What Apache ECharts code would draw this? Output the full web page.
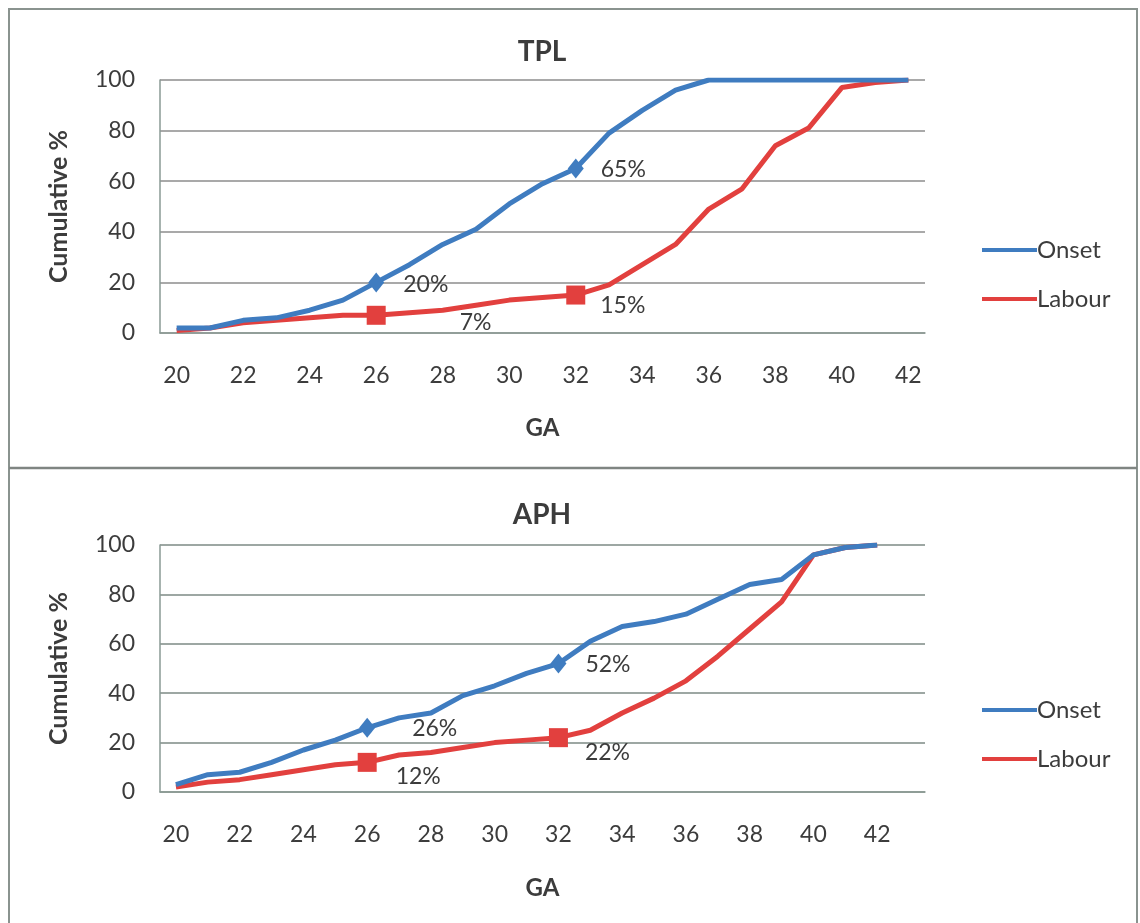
<!DOCTYPE html>
<html>
<head>
<meta charset="utf-8">
<script src="https://cdn.jsdelivr.net/npm/echarts@6/dist/echarts.min.js"></script>
<style>
html,body{margin:0;padding:0;background:#fff;}
#main{width:1140px;height:923px;}
</style>
</head>
<body>
<div id="main"></div>
<script>
// ---- data ----
const tplWeeks = ['20','21','22','23','24','25','26','27','28','29','30','31','32','33','34','35','36','37','38','39','40','41','42'];
const aphWeeks = ['20','21','22','23','24','25','26','27','28','29','30','31','32','33','34','35','36','37','38','39','40','41','42','43'];
const tplOnset  = [2,2,5,6,9,13,20,27,35,41,51,59,65,79,88,96,100,100,100,100,100,100,100];
const tplLabour = [1,2,4,5,6,7,7,8,9,11,13,14,15,19,27,35,49,57,74,81,97,99,100];
const aphOnset  = [3,7,8,12,17,21,26,30,32,39,43,48,52,61,67,69,72,78,84,86,96,99,100];
const aphLabour = [2,4,5,7,9,11,12,15,16,18,20,21,22,25,32,38,45,55,66,77,96,99,100];
const markedWeeks = ['26','32'];
const seriesNames = ['Onset','Labour'];
const yTicks = [0,20,40,60,80,100];

// ---- styling / building ----
const FONT = 'Lato, "Open Sans", sans-serif';
const TXT = '#3c3c3c';
const BLUE = '#3f7cc0';
const RED = '#e2403e';

function buildData(weeks, values, symbol, size, color, offsets) {
  return values.map((v, i) => {
    const k = markedWeeks.indexOf(weeks[i]);
    if (k < 0) return v;
    return {
      value: v,
      symbol: symbol,
      symbolSize: size,
      itemStyle: {color: color},
      label: {
        show: true, position: 'right', distance: 0, offset: offsets[k],
        formatter: '{c}%', color: TXT, fontSize: 23, fontFamily: FONT
      }
    };
  });
}

function lineSeries(name, weeks, values, color, symbol, size, offsets, idx) {
  return {
    type: 'line', name: name, xAxisIndex: idx, yAxisIndex: idx,
    data: buildData(weeks, values, symbol, size, color, offsets),
    symbol: 'none', showSymbol: true, smooth: false,
    lineStyle: {color: color, width: 5},
    itemStyle: {color: color},
    label: {show: false},
    emphasis: {disabled: true},
    z: name === 'Onset' ? 3 : 2
  };
}

const grids = [
  {left: 160, right: 215, top: 80, height: 253},
  {left: 160, right: 215, top: 545, height: 247}
];

function xAx(idx, weeks, gap) {
  return {
    type: 'category', gridIndex: idx, data: weeks, boundaryGap: true,
    axisLine: {show: true, lineStyle: {color: '#8a9a94', width: 1.5}},
    axisTick: {show: false},
    axisLabel: {interval: 1, margin: 31, color: TXT, fontSize: 23, fontFamily: FONT},
    name: 'GA', nameLocation: 'middle', nameGap: gap,
    nameTextStyle: {color: TXT, fontSize: 24, fontWeight: 'bold', fontFamily: FONT},
    splitLine: {show: false}
  };
}
function yAx(idx, gridColor) {
  return {
    type: 'value', gridIndex: idx, min: yTicks[0], max: yTicks[yTicks.length-1], interval: 20,
    axisLine: {show: true, lineStyle: {color: '#8a9a94', width: 1.5}},
    axisTick: {show: false},
    axisLabel: {margin: 25, color: TXT, fontSize: 23, fontFamily: FONT},
    name: 'Cumulative %', nameLocation: 'middle', nameGap: 89, nameRotate: 90,
    nameTextStyle: {color: TXT, fontSize: 25, fontWeight: 'bold', fontFamily: FONT},
    splitLine: {show: true, lineStyle: {color: gridColor, width: 1.5}}
  };
}

function legend(top) {
  return {
    data: seriesNames, orient: 'vertical', left: 977, top: top, itemGap: 25,
    icon: 'rect', itemWidth: 55, itemHeight: 4,
    textStyle: {color: TXT, fontSize: 24, fontFamily: FONT, padding: [0,0,0,-5]},
    selectedMode: false
  };
}

const option = {
  backgroundColor: '#ffffff',
  animation: false,
  grid: grids,
  xAxis: [xAx(0, tplWeeks, 83), xAx(1, aphWeeks, 84)],
  yAxis: [yAx(0, '#8c8c8c'), yAx(1, '#7d8a85')],
  legend: [legend(233), legend(693)],
  graphic: [
    {type: 'rect', shape: {x: 9, y: 9, width: 1128, height: 930},
     style: {fill: 'none', stroke: '#8a938f', lineWidth: 2}, silent: true},
    {type: 'line', shape: {x1: 9, y1: 468, x2: 1137, y2: 468},
     style: {stroke: '#7f8582', lineWidth: 2.5}, silent: true},
    {type: 'text', x: 542, y: 52, silent: true,
     style: {text: 'TPL', font: 'bold 28px ' + FONT, fill: TXT, textAlign: 'center', textVerticalAlign: 'middle'}},
    {type: 'text', x: 542, y: 515, silent: true,
     style: {text: 'APH', font: 'bold 28px ' + FONT, fill: TXT, textAlign: 'center', textVerticalAlign: 'middle'}}
  ],
  series: [
    lineSeries('Onset', tplWeeks, tplOnset, BLUE, 'diamond', [16,20], [[19,2],[17,1]], 0),
    lineSeries('Labour', tplWeeks, tplLabour, RED, 'rect', 19, [[74,7],[15,11]], 0),
    lineSeries('Onset', aphWeeks, aphOnset, BLUE, 'diamond', [16,20], [[37,1],[19,1]], 1),
    lineSeries('Labour', aphWeeks, aphLabour, RED, 'rect', 19, [[19,14],[17,15]], 1)
  ]
};

const chart = echarts.init(document.getElementById('main'), null, {renderer: 'canvas'});
chart.setOption(option);
</script>
</body>
</html>
